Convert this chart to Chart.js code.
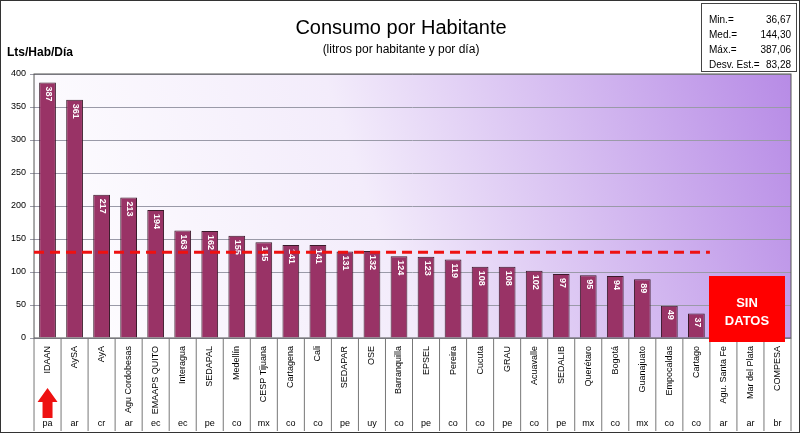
<!DOCTYPE html>
<html>
<head>
<meta charset="utf-8">
<script src="https://cdn.jsdelivr.net/npm/chart.js@4"></script>
<style>
  body { margin: 0; background: #fff; }
  #wrap { width: 798px; height: 431px; border: 1px solid #333; position: relative; }
</style>
</head>
<body>
<div id="wrap"><canvas id="c" width="798" height="431"></canvas></div>
<script>
const names = ['IDAAN', 'AySA', 'AyA', 'Agu Cordobesas', 'EMAAPS QUITO', 'Interagua', 'SEDAPAL', 'Medellín',
    'CESP Tijuana', 'Cartagena', 'Cali', 'SEDAPAR', 'OSE', 'Barranquilla', 'EPSEL', 'Pereira', 'Cucuta', 'GRAU',
    'Acuavalle', 'SEDALIB', 'Querétaro', 'Bogotá', 'Guanajuato', 'Empocaldas', 'Cartago', 'Agu. Santa Fe',
    'Mar del Plata', 'COMPESA'];
const countries = ['pa', 'ar', 'cr', 'ar', 'ec', 'ec', 'pe', 'co', 'mx', 'co', 'co', 'pe', 'uy', 'co', 'pe', 'co',
    'co', 'pe', 'co', 'pe', 'mx', 'co', 'mx', 'co', 'co', 'ar', 'ar', 'br'];
const consumo = [387, 361, 217, 213, 194, 163, 162, 155, 145, 141, 141, 131, 132, 124, 123, 119, 108, 108, 102, 97,
    95, 94, 89, 49, 37, null, null, null];
const yTicks = [0, 50, 100, 150, 200, 250, 300, 350, 400];
const refLine = 130;
const stats = [['Min.=', '36,67'], ['Med.=', '144,30'], ['Máx.=', '387,06'], ['Desv. Est.=', '83,28']];

const decor = {
    id: 'decor',
    beforeDraw(chart) {
        const { ctx, chartArea: a } = chart;
        const g = ctx.createLinearGradient(a.left, a.bottom, a.right, a.top);
        g.addColorStop(0, '#ffffff');
        g.addColorStop(0.45, '#f3ecfb');
        g.addColorStop(1, '#b78be6');
        ctx.fillStyle = g;
        ctx.fillRect(a.left, a.top, a.right - a.left, a.bottom - a.top);
    },
    afterDraw(chart) {
        const { ctx, chartArea: a, scales } = chart;
        const x = scales.x, y = scales.y;
        ctx.save();
        ctx.strokeStyle = '#555';
        ctx.lineWidth = 1;
        ctx.strokeRect(a.left, a.top, a.right - a.left, a.bottom - a.top);
        // value labels
        ctx.font = 'bold 9px Arial, "Liberation Sans"';
        ctx.fillStyle = '#fff';
        consumo.forEach((v, i) => {
            if (v == null) return;
            ctx.save();
            ctx.translate(x.getPixelForValue(i) + 1, y.getPixelForValue(v) + 4);
            ctx.rotate(Math.PI / 2);
            ctx.textAlign = 'left';
            ctx.textBaseline = 'middle';
            ctx.fillText(String(v), 0, 0);
            ctx.restore();
        });
        // reference line
        const step = x.getPixelForValue(1) - x.getPixelForValue(0);
        ctx.strokeStyle = '#ee1111';
        ctx.lineWidth = 3;
        ctx.setLineDash([10, 6]);
        ctx.beginPath();
        ctx.moveTo(x.getPixelForValue(0) - step / 2, y.getPixelForValue(refLine));
        ctx.lineTo(x.getPixelForValue(24) + step / 2, y.getPixelForValue(refLine));
        ctx.stroke();
        ctx.setLineDash([]);
        // label table
        ctx.strokeStyle = '#777';
        ctx.lineWidth = 1;
        ctx.fillStyle = '#000';
        names.forEach((n, i) => {
            const cx = x.getPixelForValue(i);
            const lx = cx - step / 2;
            ctx.beginPath();
            ctx.moveTo(lx, a.bottom);
            ctx.lineTo(lx, 430);
            ctx.stroke();
            ctx.save();
            ctx.translate(cx, a.bottom + 8);
            ctx.rotate(-Math.PI / 2);
            ctx.font = '9px Arial, "Liberation Sans"';
            ctx.textAlign = 'right';
            ctx.textBaseline = 'middle';
            ctx.fillText(n, 0, 0);
            ctx.restore();
            ctx.font = '9px Arial, "Liberation Sans"';
            ctx.textAlign = 'center';
            ctx.textBaseline = 'middle';
            ctx.fillText(countries[i], cx, 423);
        });
        ctx.beginPath();
        ctx.moveTo(a.right, a.bottom);
        ctx.lineTo(a.right, 430);
        ctx.stroke();
        // arrow under IDAAN
        const ax = x.getPixelForValue(0);
        ctx.fillStyle = '#ee1111';
        ctx.beginPath();
        ctx.moveTo(ax, 387);
        ctx.lineTo(ax - 10, 401);
        ctx.lineTo(ax - 5, 401);
        ctx.lineTo(ax - 5, 417);
        ctx.lineTo(ax + 5, 417);
        ctx.lineTo(ax + 5, 401);
        ctx.lineTo(ax + 10, 401);
        ctx.closePath();
        ctx.fill();
        // SIN DATOS
        ctx.fillStyle = '#ff0000';
        ctx.fillRect(708, 275, 76, 66);
        ctx.fillStyle = '#fff';
        ctx.font = 'bold 13px Arial, "Liberation Sans"';
        ctx.textAlign = 'center';
        ctx.fillText('SIN', 746, 302);
        ctx.fillText('DATOS', 746, 320);
        // title and axis caption
        ctx.fillStyle = '#000';
        ctx.font = '20px Arial, "Liberation Sans"';
        ctx.fillText('Consumo por Habitante', 400, 27);
        ctx.font = '12px Arial, "Liberation Sans"';
        ctx.fillText('(litros por habitante y por día)', 400, 49);
        ctx.font = 'bold 12px Arial, "Liberation Sans"';
        ctx.textAlign = 'left';
        ctx.fillText('Lts/Hab/Día', 6, 52);
        // stats box
        ctx.fillStyle = '#fff';
        ctx.fillRect(700, 2, 95, 68);
        ctx.strokeStyle = '#444';
        ctx.strokeRect(700.5, 2.5, 95, 68);
        ctx.fillStyle = '#000';
        ctx.font = '10px Arial, "Liberation Sans"';
        stats.forEach((s, i) => {
            ctx.textAlign = 'left';
            ctx.fillText(s[0], 708, 19 + i * 15);
            ctx.textAlign = 'right';
            ctx.fillText(s[1], 790, 19 + i * 15);
        });
        ctx.restore();
    }
};

new Chart(document.getElementById('c'), {
    type: 'bar',
    data: {
        labels: names,
        datasets: [{
            data: consumo,
            backgroundColor: '#993366',
            borderColor: '#3a1a2a',
            borderWidth: 1,
            barPercentage: 0.62,
            categoryPercentage: 1
        }]
    },
    options: {
        responsive: false,
        animation: false,
        layout: { padding: { top: 73, right: 8, bottom: 86, left: 6 } },
        plugins: { legend: { display: false }, tooltip: { enabled: false } },
        scales: {
            x: {
                ticks: { display: false },
                grid: { display: false },
                border: { display: false }
            },
            y: {
                min: 0,
                max: 400,
                afterBuildTicks(s) { s.ticks = yTicks.map(v => ({ value: v })); },
                ticks: { font: { size: 9, family: 'Arial, "Liberation Sans"' }, color: '#000', padding: 4 },
                grid: { color: '#9a9aa8', drawTicks: true, tickLength: 4 },
                border: { display: false }
            }
        }
    },
    plugins: [decor]
});
</script>
</body>
</html>
